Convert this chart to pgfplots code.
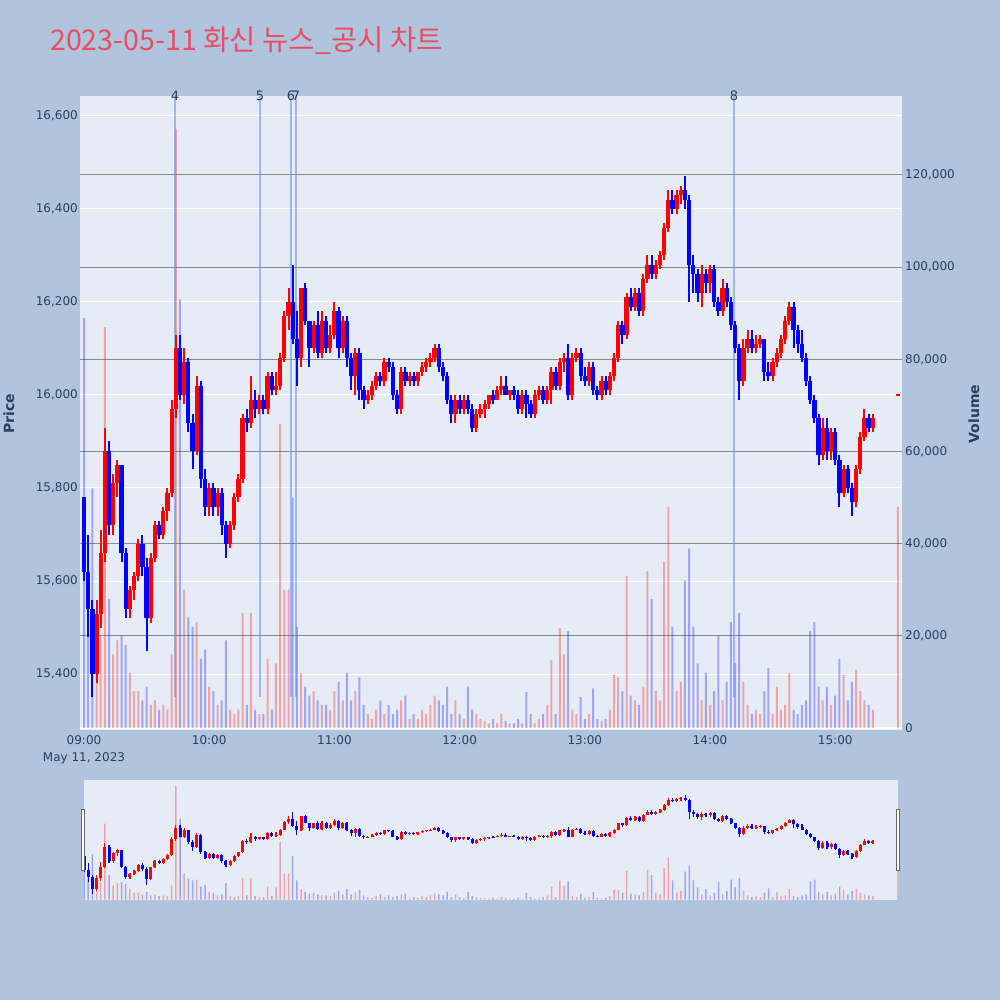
\documentclass[border=0pt]{standalone}
\usepackage{pgfplots}
\pgfplotsset{compat=1.18}
\usepackage{pgfplotstable}
\usepackage{fontspec}
\setmainfont{DejaVu Sans}
\newfontfamily\krfont{Noto Sans CJK KR}
\definecolor{pagebg}{RGB}{176,196,222}
\definecolor{plotbg}{RGB}{229,236,246}
\definecolor{tickc}{RGB}{42,63,95}
\definecolor{gridgray}{RGB}{138,138,138}
\definecolor{titlec}{RGB}{236,76,96}
\definecolor{newsc}{RGB}{100,140,240}
\definecolor{upc}{RGB}{255,0,0}
\definecolor{dnc}{RGB}{0,0,255}

\pgfplotstableread{
t o h l c v
0 15780 15780 15600 15620 89000
2 15620 15700 15480 15540 25000
4 15540 15560 15350 15400 52000
6 15400 15560 15380 15530 18000
8 15530 15710 15500 15660 20000
10 15660 15930 15640 15880 87000
12 15880 15900 15700 15720 28000
14 15720 15830 15700 15810 16000
16 15810 15860 15780 15850 19000
18 15850 15850 15640 15660 20000
20 15660 15670 15520 15540 18000
22 15540 15590 15520 15580 12000
24 15580 15620 15560 15610 8000
26 15610 15690 15600 15680 8000
28 15680 15700 15610 15630 6000
30 15630 15650 15450 15520 9000
32 15520 15660 15510 15650 5000
34 15650 15730 15640 15720 6000
36 15720 15730 15690 15700 4000
38 15700 15760 15690 15750 5000
40 15750 15800 15730 15790 4000
42 15790 15990 15780 15970 16000
44 15970 16130 15950 16100 130000
46 16100 16130 15990 16000 93000
48 16000 16100 15980 16070 30000
50 16070 16080 15920 15940 24000
52 15940 15960 15840 15880 22000
54 15880 16040 15870 16020 23000
56 16020 16030 15800 15820 15000
58 15820 15840 15740 15760 17000
60 15760 15810 15740 15800 9000
62 15800 15810 15740 15760 8000
64 15760 15800 15740 15790 5000
66 15790 15800 15700 15720 6000
68 15720 15730 15650 15680 19000
70 15680 15730 15670 15720 4000
72 15720 15790 15710 15780 3000
74 15780 15830 15770 15820 4000
76 15820 15960 15810 15950 25000
78 15950 15970 15920 15940 5000
80 15940 16040 15930 15990 25000
82 15990 16010 15950 15970 4000
84 15970 16000 15960 15990 3000
86 15990 16000 15960 15970 3000
88 15970 16050 15960 16040 15000
90 16040 16050 16000 16010 4000
92 16010 16050 16000 16020 14000
94 16020 16090 16010 16080 66000
96 16080 16180 16070 16170 30000
98 16170 16230 16140 16200 30000
100 16200 16280 16110 16120 50000
102 16120 16180 16020 16080 22000
104 16080 16230 16060 16230 12000
106 16230 16240 16150 16160 9000
108 16160 16160 16060 16100 7000
110 16100 16160 16090 16150 8000
112 16150 16180 16080 16090 6000
114 16090 16180 16080 16160 5000
116 16160 16170 16090 16100 5000
118 16100 16150 16090 16130 4000
120 16130 16200 16120 16180 8000
122 16180 16190 16080 16100 10000
124 16100 16170 16090 16160 6000
126 16160 16170 16060 16080 12000
128 16080 16090 16010 16040 6000
130 16040 16100 16000 16090 8000
132 16090 16100 15990 16010 11000
134 16010 16020 15970 15990 5000
136 15990 16010 15980 16000 3000
138 16000 16030 15990 16020 2000
140 16020 16050 16010 16040 4000
142 16040 16050 16020 16030 6000
144 16030 16080 16020 16070 3000
146 16070 16080 16050 16060 5000
148 16060 16070 15990 16000 3000
150 16000 16010 15960 15970 4000
152 15970 16060 15960 16050 6000
154 16050 16060 16020 16030 7000
156 16030 16050 16020 16040 2000
158 16040 16050 16020 16030 3000
160 16030 16050 16020 16050 2000
162 16050 16070 16040 16060 4000
164 16060 16080 16050 16070 3000
166 16070 16090 16060 16080 5000
168 16080 16110 16070 16100 7000
170 16100 16110 16050 16060 6000
172 16060 16070 16030 16040 5000
174 16040 16050 15980 15990 9000
176 15990 16000 15940 15960 3000
178 15960 16000 15940 15990 6000
180 15990 16000 15960 15970 3000
182 15970 16000 15960 15990 2000
184 15990 16000 15960 15970 9000
186 15970 15980 15920 15930 4000
188 15930 15970 15920 15960 3000
190 15960 15980 15950 15970 2000
192 15970 15990 15950 15980 1500
194 15980 16000 15970 16000 1000
196 16000 16010 15980 15990 2000
198 15990 16020 15990 16010 1000
200 16010 16040 16000 16020 3000
202 16020 16040 16000 16000 1500
204 16000 16010 15990 16010 1000
206 16010 16020 15990 16000 1000
208 16000 16010 15960 15970 2000
210 15970 16010 15960 16000 1000
212 16000 16010 15950 15980 7800
214 15980 15990 15950 15960 3000
216 15960 16010 15950 16000 1000
218 16000 16020 15990 16010 2000
220 16010 16020 15980 15990 3000
222 15990 16020 15980 16010 5000
224 16010 16060 15980 16050 14800
226 16050 16060 16010 16020 3000
228 16020 16080 16010 16070 21700
230 16070 16090 16050 16080 16000
232 16080 16110 15990 16000 21000
234 16000 16090 15990 16080 4000
236 16080 16100 16070 16090 3000
238 16090 16100 16030 16040 6700
240 16040 16060 16020 16030 2000
242 16030 16070 16020 16060 3000
244 16060 16070 16000 16010 8600
246 16010 16020 15990 16000 2000
248 16000 16040 15990 16030 1500
250 16030 16040 16000 16010 2000
252 16010 16050 16000 16040 4000
254 16040 16090 16030 16080 11500
256 16080 16160 16070 16150 11000
258 16150 16160 16110 16130 8000
260 16130 16220 16120 16210 33000
262 16210 16230 16180 16190 7000
264 16190 16230 16180 16220 6000
266 16220 16230 16170 16180 5000
268 16180 16260 16170 16250 9000
270 16250 16300 16240 16280 34000
272 16280 16300 16250 16260 28000
274 16260 16290 16250 16280 8000
276 16280 16310 16270 16300 6000
278 16300 16370 16290 16360 36000
280 16360 16440 16350 16420 48000
282 16420 16440 16390 16400 22000
284 16400 16440 16390 16430 8000
286 16430 16450 16410 16440 10000
288 16440 16470 16400 16420 32000
290 16420 16430 16200 16280 39000
292 16280 16300 16220 16260 22000
294 16260 16270 16200 16220 14000
296 16220 16280 16190 16260 6000
298 16260 16270 16220 16240 12000
300 16240 16280 16220 16270 5000
302 16270 16280 16190 16200 8000
304 16200 16210 16170 16180 20000
306 16180 16250 16170 16230 6000
308 16230 16240 16190 16200 10000
310 16200 16210 16140 16150 23000
312 16150 16160 16090 16100 14000
314 16100 16110 15990 16030 25000
316 16030 16120 16020 16100 10000
318 16100 16140 16090 16120 5000
320 16120 16140 16090 16100 3000
322 16100 16130 16090 16110 4000
324 16110 16130 16100 16120 3000
326 16120 16120 16030 16050 8000
328 16050 16070 16030 16040 13000
330 16040 16080 16030 16070 3000
332 16070 16100 16060 16090 9000
334 16090 16130 16080 16120 4000
336 16120 16170 16110 16160 5000
338 16160 16200 16150 16190 12000
340 16190 16200 16100 16140 4000
342 16140 16150 16090 16110 3000
344 16110 16140 16070 16080 5000
346 16080 16090 16020 16030 6000
348 16030 16040 15980 15990 21000
350 15990 16000 15940 15950 23000
352 15950 15960 15850 15870 9000
354 15870 15950 15860 15930 6000
356 15930 15950 15860 15880 9000
358 15880 15930 15860 15920 5000
360 15920 15930 15850 15860 7000
362 15860 15870 15760 15790 15000
364 15790 15850 15780 15840 11500
366 15840 15850 15790 15800 6000
368 15800 15810 15740 15770 10000
370 15770 15850 15760 15840 12600
372 15840 15920 15830 15910 8000
374 15910 15970 15900 15950 6000
376 15950 15960 15920 15930 5000
378 15930 15960 15920 15950 4000
390 15997 16003 15997 16003 48000
}\candles

\pgfplotsset{
  uponly/.style={restrict expr to domain={\thisrow{c}-\thisrow{o}}{0:1000000}},
  dnonly/.style={restrict expr to domain={\thisrow{c}-\thisrow{o}}{-1000000:-1}},
  bare/.style={scale only axis, axis line style={draw=none}, major tick length=0pt, minor tick num=0,
    scaled x ticks=false, scaled y ticks=false,
    tick style={draw=none}, ticklabel style={text=tickc, font=\fontsize{12}{14}\selectfont}},
  mainpos/.style={at={(80pt,270pt)}, anchor=south west, width=822pt, height=634pt, xmin=-1.92, xmax=392},
  slidepos/.style={at={(84pt,100pt)}, anchor=south west, width=814pt, height=120pt, xmin=0, xmax=390},
  pricey/.style={ymin=15279.6, ymax=16643},
  voly/.style={ymin=-434, ymax=137144},
}

\begin{document}
\begin{tikzpicture}
\fill[pagebg] (0pt,0pt) rectangle (1000pt,1000pt);
\useasboundingbox (0pt,0pt) rectangle (1000pt,1000pt);

% title
\node[anchor=base west, font=\krfont\fontsize{28.6}{32}\selectfont, text=titlec, inner sep=0pt] at (50pt,949pt) {2023-05-11 화신 뉴스\_공시 차트};

% ---------- main: price background & grid ----------
\begin{axis}[bare, mainpos, pricey,
  axis background/.style={fill=plotbg},
  ymajorgrids, grid style={white, line width=1pt},
  ytick={15400,15600,15800,16000,16200,16400,16600},
  yticklabels={{15,400},{15,600},{15,800},{16,000},{16,200},{16,400},{16,600}},
  yticklabel style={anchor=east, inner sep=0pt, xshift=-2pt},
  xtick={0,60,120,180,240,300,360},
  xticklabels={{09:00\\May 11, 2023},10:00,11:00,12:00,13:00,14:00,15:00},
  xticklabel style={anchor=north, align=center, inner sep=0pt, yshift=-5pt, font=\fontsize{12}{17}\selectfont},
]
\end{axis}

% ---------- main: volume ----------
\begin{axis}[bare, mainpos, voly,
  ymajorgrids, grid style={gridgray, line width=1pt},
  ytick={20000,40000,60000,80000,100000,120000},
  yticklabels={{20,000},{40,000},{60,000},{80,000},{100,000},{120,000}},
  extra y ticks={0}, extra y tick labels={0},
  extra y tick style={grid style={white, line width=2pt}},
  yticklabel pos=right,
  yticklabel style={anchor=west, inner sep=0pt, xshift=3pt},
  xtick=\empty,
]
\addplot[ybar, bar width=2pt, bar shift=0pt, fill=upc, fill opacity=0.3, draw=none, uponly] table[x=t, y=v] {\candles};
\addplot[ybar, bar width=2pt, bar shift=0pt, fill=dnc, fill opacity=0.3, draw=none, dnonly] table[x=t, y=v] {\candles};
\end{axis}

% ---------- main: candles ----------
\begin{axis}[bare, mainpos, pricey, ticks=none, clip=false]
\addplot[newsc, opacity=0.55, line width=2pt, forget plot] coordinates {(43.6,15350) (43.6,16643)};
\addplot[newsc, opacity=0.55, line width=2pt, forget plot] coordinates {(84.3,15350) (84.3,16643)};
\addplot[newsc, opacity=0.55, line width=2pt, forget plot] coordinates {(99.2,15350) (99.2,16643)};
\addplot[newsc, opacity=0.55, line width=2pt, forget plot] coordinates {(101.6,15350) (101.6,16643)};
\addplot[newsc, opacity=0.55, line width=2pt, forget plot] coordinates {(311.5,15350) (311.5,16643)};
% wicks
\addplot[draw=none, mark=none, forget plot, uponly, error bars/.cd, y dir=plus, y explicit, error mark=none,
  error bar style={draw=upc, line width=2pt}] table[x=t, y=l, y error expr=\thisrow{h}-\thisrow{l}] {\candles};
\addplot[draw=none, mark=none, forget plot, dnonly, error bars/.cd, y dir=plus, y explicit, error mark=none,
  error bar style={draw=dnc, line width=2pt}] table[x=t, y=l, y error expr=\thisrow{h}-\thisrow{l}] {\candles};
% bodies
\addplot[draw=none, mark=none, forget plot, uponly, error bars/.cd, y dir=plus, y explicit, error mark=none,
  error bar style={draw=upc, line width=4.3pt}] table[x=t, y=o, y error expr=\thisrow{c}-\thisrow{o}] {\candles};
\addplot[draw=none, mark=none, forget plot, dnonly, error bars/.cd, y dir=plus, y explicit, error mark=none,
  error bar style={draw=dnc, line width=4.3pt}] table[x=t, y=c, y error expr=\thisrow{o}-\thisrow{c}] {\candles};
\node[font=\fontsize{13}{13}\selectfont, text=tickc, inner sep=0pt] at (axis cs:43.6,16643) {4};
\node[font=\fontsize{13}{13}\selectfont, text=tickc, inner sep=0pt] at (axis cs:84.3,16643) {5};
\node[font=\fontsize{13}{13}\selectfont, text=tickc, inner sep=0pt] at (axis cs:99.2,16643) {6};
\node[font=\fontsize{13}{13}\selectfont, text=tickc, inner sep=0pt] at (axis cs:101.6,16643) {7};
\node[font=\fontsize{13}{13}\selectfont, text=tickc, inner sep=0pt] at (axis cs:311.5,16643) {8};
\end{axis}

% axis titles
\node[rotate=90, font=\bfseries\fontsize{14}{16}\selectfont, text=tickc] at (9pt,586pt) {Price};
\node[rotate=90, font=\bfseries\fontsize{14}{16}\selectfont, text=tickc] at (974pt,586pt) {Volume};

% ---------- range slider ----------
\begin{axis}[bare, slidepos, voly, ticks=none, axis background/.style={fill=plotbg}]
\addplot[ybar, bar width=1.5pt, bar shift=0pt, fill=upc, fill opacity=0.3, draw=none, uponly] table[x=t, y=v] {\candles};
\addplot[ybar, bar width=1.5pt, bar shift=0pt, fill=dnc, fill opacity=0.3, draw=none, dnonly] table[x=t, y=v] {\candles};
\end{axis}
\begin{axis}[bare, slidepos, pricey, ticks=none]
\addplot[draw=none, mark=none, forget plot, uponly, error bars/.cd, y dir=plus, y explicit, error mark=none,
  error bar style={draw=upc, line width=1.2pt}] table[x=t, y=l, y error expr=\thisrow{h}-\thisrow{l}] {\candles};
\addplot[draw=none, mark=none, forget plot, dnonly, error bars/.cd, y dir=plus, y explicit, error mark=none,
  error bar style={draw=dnc, line width=1.2pt}] table[x=t, y=l, y error expr=\thisrow{h}-\thisrow{l}] {\candles};
\addplot[draw=none, mark=none, forget plot, uponly, error bars/.cd, y dir=plus, y explicit, error mark=none,
  error bar style={draw=upc, line width=3pt}] table[x=t, y=o, y error expr=\thisrow{c}-\thisrow{o}] {\candles};
\addplot[draw=none, mark=none, forget plot, dnonly, error bars/.cd, y dir=plus, y explicit, error mark=none,
  error bar style={draw=dnc, line width=3pt}] table[x=t, y=c, y error expr=\thisrow{o}-\thisrow{c}] {\candles};
\end{axis}
\draw[black!60, fill=white, line width=1pt] (81.5pt,129pt) rectangle (84.5pt,190pt);
\draw[black!60, fill=white, line width=1pt] (896.5pt,129pt) rectangle (899.5pt,190pt);
\end{tikzpicture}
\end{document}
